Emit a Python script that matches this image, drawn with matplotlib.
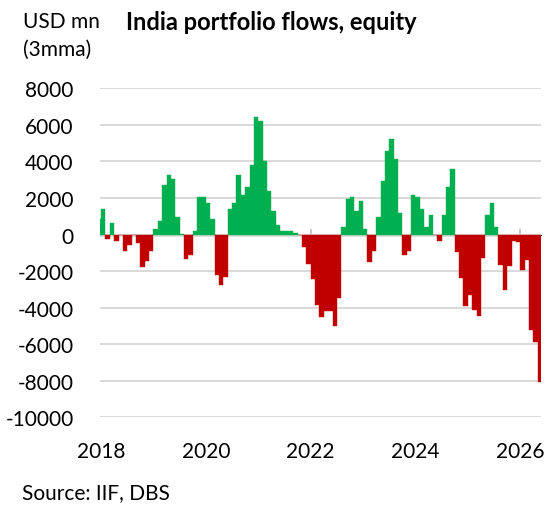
import matplotlib
matplotlib.use("Agg")
import matplotlib.pyplot as plt
import pandas as pd

# monthly, 3mma, USD mn
months = pd.date_range("2017-12-01", periods=102, freq="MS")
flows = [
    850, 1420, -220, 650, -330, -40, -880, -550, -30, -450,
    -1760, -1430, -880, 300, 740, 2710, 3260, 3040, 960, 30,
    -1320, -1100, 190, 2060, 2060, 1730, 860, -2200, -2740, -2300,
    1400, 1720, 3250, 2160, 2600, 3800, 6430, 6210, 4020, 2380,
    1290, 500, 190, 190, 190, 80, -40, -660, -1640, -2410,
    -3830, -4490, -4160, -4160, -5030, -3500, 410, 1960, 2050, 1290,
    1830, 300, -1530, -880, 960, 2930, 4570, 5230, 4130, 1180,
    -1100, -880, 2160, 2050, 1390, 410, 1070, -30, -340, 1070,
    2600, 3580, -980, -2400, -3930, -3300, -4150, -4480, -1300, 1070,
    1720, 410, -1650, -3060, -1740, -350, -430, -1960, -1410, -5250,
    -5900, -8090,
]
year_labels = ["2018", "2020", "2022", "2024", "2026"]
y_ticks = [8000, 6000, 4000, 2000, 0, -2000, -4000, -6000, -8000, -10000]

green = "#00B050"
red = "#C00000"
grid_col = "#D9D9D9"

plt.rcParams["font.family"] = ["Lato", "DejaVu Sans"]
plt.rcParams["axes.unicode_minus"] = False

fig = plt.figure(figsize=(5.49, 5.06), dpi=100)
ax = fig.add_axes([100 / 549, 1 - 418.3 / 506, 441 / 549, 329 / 506])

pos = list(range(len(flows)))
cols = [green if v >= 0 else red for v in flows]
ax.bar(pos, flows, width=1.0, color=cols, edgecolor=cols, linewidth=0.3, zorder=3)

ax.set_ylim(-10000, 8000)
ax.set_xlim(0.25, len(flows) - 0.75)
ax.set_yticks(y_ticks)
ax.set_yticklabels([str(v) for v in y_ticks])
ax.yaxis.grid(True, color=grid_col, linewidth=1.4, zorder=0)
ax.axhline(0, color=grid_col, linewidth=1.8, zorder=2)

# year ticks sit on the Dec/Jan boundary
tick_pos = [list(months).index(pd.Timestamp(y + "-01-01")) - 0.5 for y in year_labels]
ax.set_xticks(tick_pos)
ax.set_xticklabels(year_labels)
ax.tick_params(axis="x", length=0, pad=17, labelsize=15)
ax.tick_params(axis="y", length=0, pad=19, labelsize=15)

for s in ax.spines.values():
    s.set_visible(False)

# small tick marks on the zero line
zero_frac = (0 - (-10000)) / (8000 - (-10000))
sec = ax.secondary_xaxis(zero_frac)
sec.set_xticks(tick_pos)
sec.set_xticklabels([])
sec.tick_params(axis="x", direction="out", length=4, width=1.2, color="#BFBFBF")
sec.spines["bottom"].set_visible(False)

fig.text(23 / 549, 1 - 22 / 506, "USD mn", fontsize=15, va="center", ha="left")
fig.text(23 / 549, 1 - 50 / 506, "(3mma)", fontsize=15, va="center", ha="left")
fig.text(126 / 549, 1 - 22 / 506, "India portfolio flows, equity", fontsize=17,
         fontweight="bold", va="center", ha="left")
fig.text(22 / 549, 1 - 493 / 506, "Source: IIF, DBS", fontsize=15, va="center", ha="left")

fig.savefig("out.png", dpi=100)
